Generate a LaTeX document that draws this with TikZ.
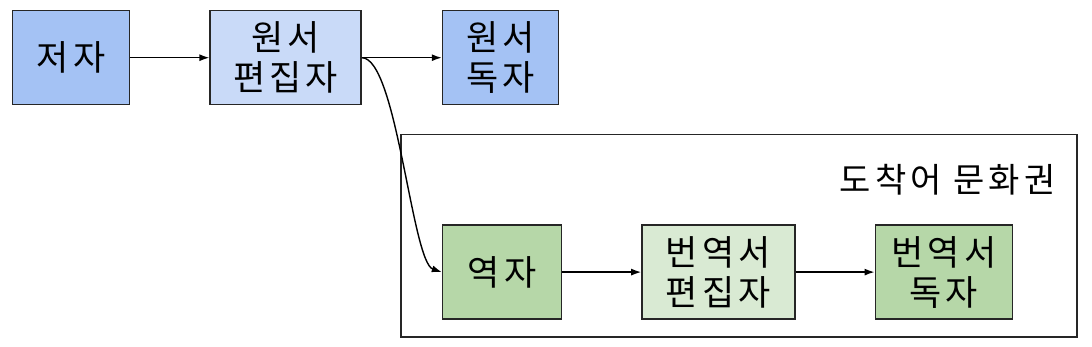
\documentclass[tikz,border=0pt]{standalone}
\usepackage{fontspec}
\setmainfont{Noto Sans CJK KR}[LetterSpace=12]
\usepackage{tikz}
\usetikzlibrary{arrows.meta,positioning,calc}
\definecolor{srcdark}{HTML}{A4C2F4}
\definecolor{srclight}{HTML}{C9DAF8}
\definecolor{tgtdark}{HTML}{B6D7A8}
\definecolor{tgtlight}{HTML}{D9EAD3}

\tikzset{
  role/.style={draw=black!85,line width=1.4pt,minimum height=94pt,inner sep=0pt,
               align=center,font=\fontsize{35}{40}\selectfont},
  flow/.style={line width=1.4pt,-{Latex[length=10pt,width=7pt]}}
}

\begin{document}
\begin{tikzpicture}[node distance=79pt]
  \useasboundingbox (0pt,0pt) rectangle (1092pt,-346pt);
  % source side
  \node[role,fill=srcdark,minimum width=117pt,anchor=north west] (author)
    at (12pt,-10pt) {저자};
  \node[role,fill=srclight,minimum width=151pt,right=of author] (srced)
    {원서\\편집자};
  \node[role,fill=srcdark,minimum width=116pt,right=80pt of srced] (srcread)
    {원서\\독자};
  % target side
  \node[role,fill=tgtdark,minimum width=119pt,below=119pt of srcread.south west,
        anchor=north west] (transl) {역자};
  \node[role,fill=tgtlight,minimum width=153pt,right=of transl] (tgted)
    {번역서\\편집자};
  \node[role,fill=tgtdark,minimum width=137pt,right=of tgted] (tgtread)
    {번역서\\독자};
  % target culture frame
  \coordinate (zonenw) at ($(transl.north west)+(-41pt,90pt)$);
  \coordinate (zonese) at ($(tgtread.south east)+(64pt,-17pt)$);
  \draw[line width=1.4pt,black!85] (zonenw) rectangle (zonese);
  \node[anchor=east,font=\fontsize{34}{36}\selectfont] (zonelabel)
    at ($(zonese|-zonenw)+(-18pt,-45pt)$) {도착어 문화권};

  \draw[flow] (author) -- (srced);
  \draw[flow] (srced) -- (srcread);
  \draw[flow] (srced.east) .. controls +(35pt,0pt) and +(-30pt,10pt) .. (transl.west);
  \draw[flow] (transl) -- (tgted);
  \draw[flow] (tgted) -- (tgtread);
\end{tikzpicture}
\end{document}
